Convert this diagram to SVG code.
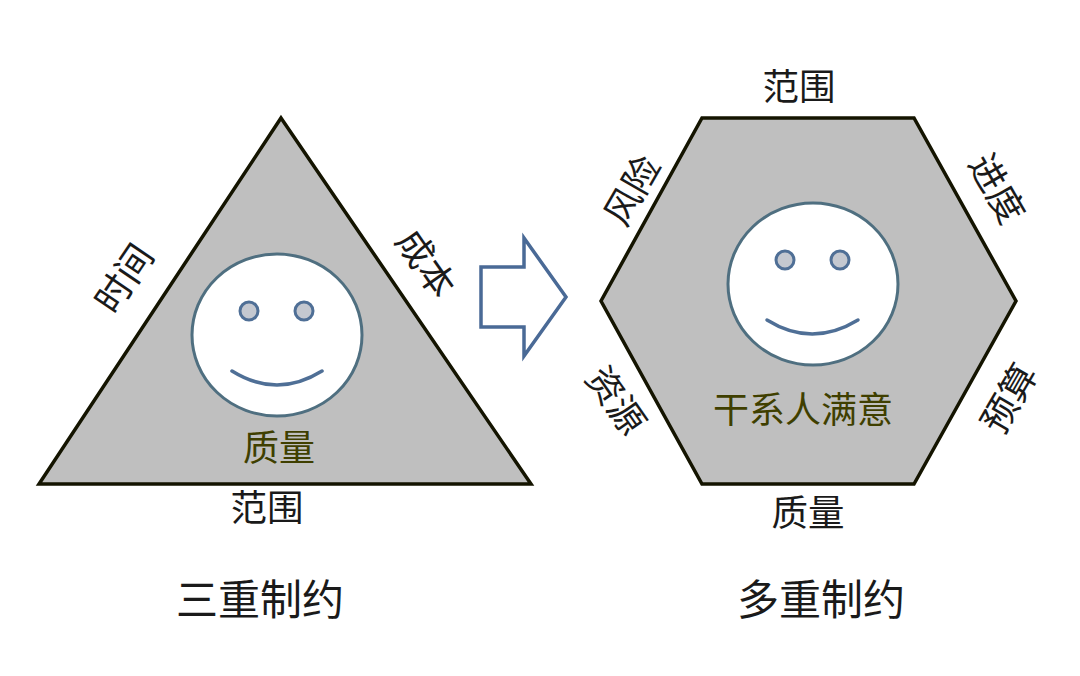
<svg xmlns="http://www.w3.org/2000/svg" width="1080" height="676" viewBox="0 0 1080 676">
<style>
text{font-family:"Noto Sans CJK SC","Liberation Sans",sans-serif;fill:#1a1a1a;text-anchor:middle}
.s{font-size:36.5px}.t{font-size:42px}.o{fill:#3f3f00;font-size:36px}
.shape{fill:#bfbfbf;stroke:#141400;stroke-width:3.5;stroke-linejoin:miter}
.face{fill:#fff;stroke:#4f6f80;stroke-width:3}
.eye{fill:#c4c8d0;stroke:#4f6f96;stroke-width:3}
.smile{fill:none;stroke:#4f6f96;stroke-width:3.5;stroke-linecap:round}
</style>
<rect width="1080" height="676" fill="#fff"/>
<g id="triangle"><polygon class="shape" points="281,118 531,484 39,484"/></g>
<g id="hexagon"><polygon class="shape" points="702,118 914,118 1016,301 914,484 702,484 601,301"/></g>
<g id="face-left"><ellipse class="face" cx="277" cy="335" rx="85" ry="81"/><circle class="eye" cx="249" cy="311" r="9"/><circle class="eye" cx="304" cy="311" r="9"/><path class="smile" d="M232,371Q277,399 322,371"/></g>
<g id="face-right"><ellipse class="face" cx="813" cy="284" rx="85" ry="81"/><circle class="eye" cx="785" cy="260" r="9"/><circle class="eye" cx="840" cy="260" r="9"/><path class="smile" d="M767,320Q812,348 858,320"/></g>
<g id="arrow"><polygon points="481,267 524,267 524,238 566,297 524,356 524,327 481,327" fill="#fff" stroke="#4a6a96" stroke-width="3.5"/></g>
<g id="labels">
<text class="o" x="279" y="461">质量</text>
<text class="o" x="803" y="423">干系人满意</text>
<text class="s" x="267" y="521">范围</text>
<text class="s" x="799" y="100">范围</text>
<text class="s" x="808" y="526">质量</text>
<text class="t" x="260" y="615">三重制约</text>
<text class="t" x="821" y="615">多重制约</text>
<text class="s" transform="translate(125,279) rotate(-56)" y="12">时间</text>
<text class="s" transform="translate(425,264) rotate(55)" y="12">成本</text>
<text class="s" transform="translate(633,191) rotate(-60)" y="12">风险</text>
<text class="s" transform="translate(996,189) rotate(60)" y="12">进度</text>
<text class="s" transform="translate(615,401) rotate(55)" y="12">资源</text>
<text class="s" transform="translate(1010,399) rotate(-60)" y="12">预算</text>
</g>
</svg>
